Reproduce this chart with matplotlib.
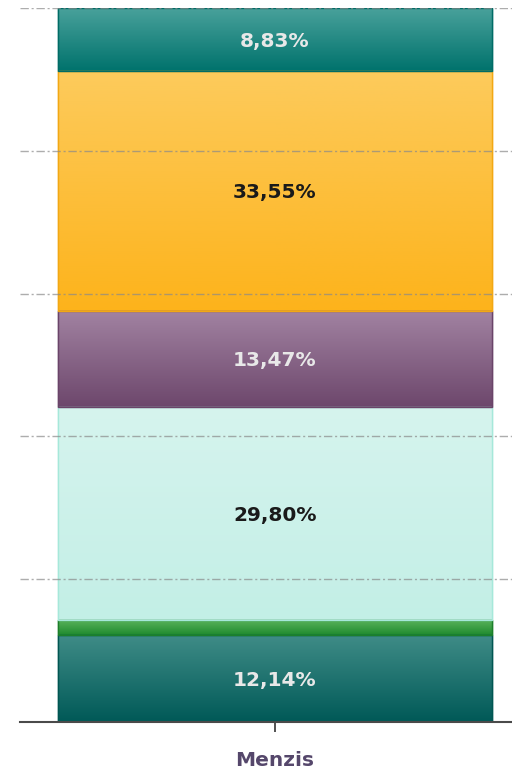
import numpy as np
import matplotlib
matplotlib.use("Agg")
import matplotlib.pyplot as plt
from matplotlib.colors import LinearSegmentedColormap

categories = ["Menzis"]
segment_values = [12.14, 2.21, 29.80, 13.47, 33.55, 8.83]
segment_labels = ["12,14%", "", "29,80%", "13,47%", "33,55%", "8,83%"]
top_colors = ["#3f8c87", "#5cb55e", "#d6f4ee", "#a283a2", "#fdcb5c", "#4aa29c"]
bottom_colors = ["#005957", "#1f8a2e", "#c3efe6", "#6d476c", "#fdb31b", "#00726c"]
edge_colors = ["#005652", "#1c7f2a", "#a6e8da", "#6a4469", "#f2a814", "#006c66"]
text_colors = ["#e8e8e8", "#e8e8e8", "#1a1a1a", "#e8e8e8", "#1a1a1a", "#e8e8e8"]

plt.rcParams['font.family'] = ['DejaVu Sans']

fig = plt.figure(figsize=(5.12, 7.72), dpi=100)
ax = fig.add_axes([20/512, 50/772, 492/512, 714/772])

bottom = 0.0
for i, v in enumerate(segment_values):
    bars = ax.bar(0, v, width=1.0, bottom=bottom, color=top_colors[i],
                  edgecolor=edge_colors[i], linewidth=1.0, zorder=2)
    patch = bars[0]
    cmap = LinearSegmentedColormap.from_list("g%d" % i, [bottom_colors[i], top_colors[i]])
    grad = np.linspace(0, 1, 256).reshape(-1, 1)
    im = ax.imshow(grad, cmap=cmap, origin="lower", aspect="auto",
                   extent=(-0.5, 0.5, bottom, bottom + v), zorder=2.5)
    im.set_clip_path(patch)
    ax.bar(0, v, width=1.0, bottom=bottom, facecolor="none",
           edgecolor=edge_colors[i], linewidth=1.0, zorder=2.6)
    if segment_labels[i]:
        ax.text(0, bottom + v / 2, segment_labels[i], ha="center", va="center_baseline",
                fontsize=14.5, fontweight="bold", color=text_colors[i], zorder=4)
    bottom += v

ax.set_xlim(-255/434, 237/434)
ax.set_ylim(0, 100)

for g in [20, 40, 60, 80, 100]:
    ax.axhline(g, color="#8a8a8a", alpha=0.7, linewidth=1.0,
               linestyle=(0, (6, 2, 1.5, 2)), zorder=3)

for s in ["top", "right", "left"]:
    ax.spines[s].set_visible(False)
ax.spines["bottom"].set_color("#4a4a4a")
ax.spines["bottom"].set_linewidth(1.5)
ax.spines["bottom"].set_zorder(5)
ax.set_yticks([])
ax.set_xticks([0])
ax.set_xticklabels(categories, fontsize=14.5, fontweight="bold", color="#55476b")
ax.tick_params(axis="x", length=7, width=1.2, color="#333333", pad=14)

fig.savefig("out.png", dpi=100)
